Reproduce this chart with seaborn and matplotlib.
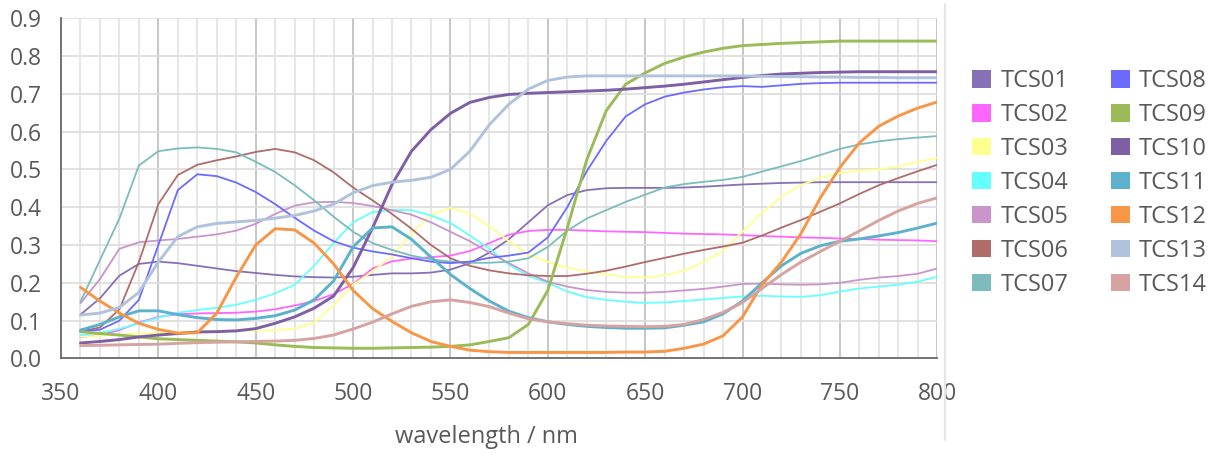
import matplotlib
matplotlib.use("Agg")
import matplotlib.pyplot as plt
import seaborn as sns
import pandas as pd
from matplotlib.patches import Patch
from matplotlib.lines import Line2D
from matplotlib.ticker import MultipleLocator, FormatStrFormatter

sns.set_theme(style="white")
plt.rcParams["font.family"] = ["Open Sans", "DejaVu Sans"]

# Spectral reflectance of the CIE test colour samples, 360-800 nm in 10 nm steps
wavelength = list(range(360, 801, 10))

tcs01 = [0.116, 0.159, 0.219, 0.250, 0.256, 0.252, 0.245, 0.238, 0.231, 0.226,
         0.221, 0.217, 0.215, 0.214, 0.216, 0.221, 0.225, 0.225, 0.227, 0.235,
         0.252, 0.280, 0.315, 0.360, 0.405, 0.432, 0.445, 0.450, 0.451, 0.451,
         0.451, 0.452, 0.454, 0.457, 0.460, 0.462, 0.464, 0.465, 0.466, 0.466,
         0.466, 0.466, 0.466, 0.466, 0.466]
tcs02 = [0.057, 0.062, 0.075, 0.095, 0.110, 0.117, 0.119, 0.120, 0.121, 0.124,
         0.130, 0.140, 0.152, 0.170, 0.197, 0.238, 0.257, 0.264, 0.268, 0.272,
         0.284, 0.305, 0.327, 0.337, 0.340, 0.340, 0.338, 0.336, 0.335, 0.334,
         0.332, 0.330, 0.329, 0.328, 0.326, 0.324, 0.322, 0.320, 0.319, 0.317,
         0.316, 0.314, 0.313, 0.312, 0.310]
tcs03 = [0.058, 0.060, 0.063, 0.066, 0.068, 0.070, 0.072, 0.073, 0.074, 0.074,
         0.075, 0.078, 0.095, 0.140, 0.195, 0.230, 0.270, 0.330, 0.380, 0.398,
         0.383, 0.350, 0.310, 0.275, 0.255, 0.240, 0.230, 0.222, 0.216, 0.214,
         0.220, 0.232, 0.255, 0.285, 0.335, 0.385, 0.428, 0.458, 0.478, 0.490,
         0.497, 0.500, 0.508, 0.520, 0.530]
tcs04 = [0.062, 0.068, 0.078, 0.093, 0.108, 0.121, 0.128, 0.134, 0.142, 0.155,
         0.172, 0.195, 0.245, 0.305, 0.360, 0.387, 0.393, 0.392, 0.378, 0.358,
         0.325, 0.290, 0.248, 0.218, 0.200, 0.177, 0.162, 0.155, 0.150, 0.147,
         0.148, 0.152, 0.156, 0.160, 0.164, 0.166, 0.164, 0.163, 0.167, 0.177,
         0.185, 0.190, 0.195, 0.203, 0.216]
tcs05 = [0.146, 0.210, 0.290, 0.307, 0.312, 0.316, 0.322, 0.328, 0.338, 0.356,
         0.382, 0.404, 0.413, 0.414, 0.411, 0.403, 0.392, 0.380, 0.360, 0.335,
         0.310, 0.280, 0.252, 0.225, 0.203, 0.190, 0.181, 0.176, 0.174, 0.174,
         0.176, 0.180, 0.184, 0.190, 0.197, 0.198, 0.196, 0.195, 0.196, 0.200,
         0.208, 0.214, 0.218, 0.224, 0.238]
tcs06 = [0.071, 0.082, 0.130, 0.255, 0.408, 0.485, 0.512, 0.524, 0.534, 0.546,
         0.554, 0.545, 0.524, 0.492, 0.452, 0.418, 0.382, 0.343, 0.300, 0.265,
         0.245, 0.233, 0.225, 0.220, 0.218, 0.218, 0.224, 0.232, 0.243, 0.255,
         0.266, 0.277, 0.287, 0.296, 0.306, 0.325, 0.346, 0.366, 0.388, 0.410,
         0.435, 0.458, 0.477, 0.495, 0.512]
tcs07 = [0.150, 0.260, 0.370, 0.510, 0.548, 0.555, 0.558, 0.554, 0.545, 0.520,
         0.493, 0.458, 0.418, 0.375, 0.335, 0.305, 0.287, 0.272, 0.262, 0.256,
         0.253, 0.253, 0.256, 0.265, 0.295, 0.338, 0.370, 0.392, 0.414, 0.433,
         0.452, 0.461, 0.467, 0.472, 0.480, 0.494, 0.508, 0.522, 0.538, 0.554,
         0.566, 0.574, 0.580, 0.584, 0.588]
tcs08 = [0.072, 0.076, 0.100, 0.155, 0.300, 0.445, 0.487, 0.482, 0.465, 0.440,
         0.408, 0.372, 0.338, 0.310, 0.293, 0.283, 0.275, 0.265, 0.256, 0.252,
         0.256, 0.266, 0.272, 0.280, 0.320, 0.400, 0.495, 0.575, 0.640, 0.672,
         0.692, 0.703, 0.711, 0.717, 0.720, 0.718, 0.722, 0.726, 0.728, 0.729,
         0.729, 0.729, 0.729, 0.729, 0.729]
tcs09 = [0.071, 0.066, 0.062, 0.057, 0.052, 0.050, 0.048, 0.046, 0.044, 0.041,
         0.036, 0.032, 0.029, 0.028, 0.027, 0.027, 0.028, 0.029, 0.030, 0.032,
         0.036, 0.045, 0.055, 0.090, 0.180, 0.345, 0.525, 0.655, 0.725, 0.755,
         0.780, 0.797, 0.810, 0.820, 0.827, 0.830, 0.833, 0.835, 0.837, 0.839,
         0.839, 0.839, 0.839, 0.839, 0.839]
tcs10 = [0.041, 0.045, 0.050, 0.057, 0.062, 0.066, 0.070, 0.071, 0.073, 0.079,
         0.093, 0.110, 0.133, 0.165, 0.240, 0.345, 0.460, 0.548, 0.605, 0.648,
         0.677, 0.690, 0.698, 0.701, 0.703, 0.705, 0.707, 0.709, 0.712, 0.716,
         0.720, 0.725, 0.731, 0.737, 0.743, 0.748, 0.752, 0.754, 0.756, 0.757,
         0.758, 0.758, 0.758, 0.758, 0.758]
tcs11 = [0.075, 0.090, 0.110, 0.126, 0.126, 0.116, 0.108, 0.103, 0.102, 0.106,
         0.113, 0.128, 0.155, 0.205, 0.295, 0.345, 0.348, 0.315, 0.268, 0.222,
         0.185, 0.152, 0.125, 0.108, 0.097, 0.090, 0.085, 0.082, 0.080, 0.080,
         0.081, 0.088, 0.097, 0.118, 0.152, 0.200, 0.245, 0.278, 0.298, 0.310,
         0.316, 0.324, 0.333, 0.345, 0.358]
tcs12 = [0.188, 0.152, 0.120, 0.093, 0.077, 0.067, 0.068, 0.120, 0.215, 0.300,
         0.343, 0.340, 0.305, 0.250, 0.180, 0.132, 0.098, 0.068, 0.045, 0.032,
         0.022, 0.018, 0.016, 0.016, 0.016, 0.016, 0.016, 0.016, 0.017, 0.017,
         0.019, 0.027, 0.038, 0.060, 0.110, 0.195, 0.255, 0.330, 0.425, 0.505,
         0.570, 0.614, 0.641, 0.662, 0.678]
tcs13 = [0.115, 0.120, 0.135, 0.175, 0.255, 0.322, 0.348, 0.357, 0.361, 0.365,
         0.371, 0.378, 0.390, 0.408, 0.438, 0.457, 0.466, 0.471, 0.479, 0.500,
         0.548, 0.618, 0.672, 0.712, 0.735, 0.744, 0.747, 0.747, 0.747, 0.747,
         0.747, 0.747, 0.747, 0.747, 0.747, 0.746, 0.745, 0.745, 0.744, 0.744,
         0.743, 0.743, 0.742, 0.742, 0.742]
tcs14 = [0.034, 0.035, 0.036, 0.037, 0.038, 0.040, 0.042, 0.043, 0.044, 0.045,
         0.046, 0.048, 0.053, 0.062, 0.078, 0.096, 0.118, 0.138, 0.150, 0.155,
         0.148, 0.137, 0.120, 0.105, 0.097, 0.092, 0.088, 0.086, 0.085, 0.084,
         0.085, 0.090, 0.103, 0.122, 0.148, 0.185, 0.222, 0.255, 0.283, 0.310,
         0.337, 0.365, 0.390, 0.410, 0.425]

samples = ["TCS01", "TCS02", "TCS03", "TCS04", "TCS05", "TCS06", "TCS07",
           "TCS08", "TCS09", "TCS10", "TCS11", "TCS12", "TCS13", "TCS14"]
reflectances = [tcs01, tcs02, tcs03, tcs04, tcs05, tcs06, tcs07,
                tcs08, tcs09, tcs10, tcs11, tcs12, tcs13, tcs14]

palette = {
    "TCS01": "#8670b6", "TCS02": "#ff66ff", "TCS03": "#ffff8f", "TCS04": "#66ffff",
    "TCS05": "#c995cb", "TCS06": "#b06b6b", "TCS07": "#7cbcbc", "TCS08": "#6b6bff",
    "TCS09": "#9bbb59", "TCS10": "#7f5fa3", "TCS11": "#5cb2cc", "TCS12": "#f79646",
    "TCS13": "#b0c2dc", "TCS14": "#d7a2a2",
}
line_widths = {name: (1.3 if i < 8 else 2.1) for i, name in enumerate(samples)}

frames = []
for name, refl in zip(samples, reflectances):
    assert len(refl) == len(wavelength)
    frames.append(pd.DataFrame({"wavelength": wavelength,
                                "reflectance": refl,
                                "sample": name}))
data = pd.concat(frames, ignore_index=True)

text_grey = "#595959"
fig = plt.figure(figsize=(12.15, 4.55), dpi=100)
ax = fig.add_axes([0.0502, 0.2121, 0.7212, 0.7483])

for name in samples:
    sns.lineplot(data=data[data["sample"] == name], x="wavelength", y="reflectance",
                 color=palette[name], linewidth=line_widths[name],
                 ax=ax, legend=False, zorder=3)

ax.set_xlim(350, 800)
ax.set_ylim(0, 0.9)
ax.xaxis.set_major_locator(MultipleLocator(50))
ax.xaxis.set_minor_locator(MultipleLocator(10))
ax.yaxis.set_major_locator(MultipleLocator(0.1))
ax.yaxis.set_major_formatter(FormatStrFormatter("%.1f"))

ax.grid(which="minor", axis="x", color="#e4e4e4", linewidth=1.3)
ax.grid(which="major", axis="x", color="#c2c2c2", linewidth=1.3)
ax.grid(which="major", axis="y", color="#dedede", linewidth=1.3)
ax.set_axisbelow(True)

for side in ("top", "right"):
    ax.spines[side].set_visible(False)
for side in ("left", "bottom"):
    ax.spines[side].set_color("#6a6a6a")
    ax.spines[side].set_linewidth(1.3)

ax.tick_params(which="major", direction="out", length=5, width=1.2,
               color="#6a6a6a", labelsize=16.5, labelcolor=text_grey)
ax.tick_params(axis="y", pad=9)
ax.tick_params(axis="x", pad=12)
ax.tick_params(which="minor", length=0)

ax.set_ylabel("")
ax.set_xlabel("wavelength / nm", fontsize=17, color=text_grey)
ax.xaxis.set_label_coords(0.485, -0.195)

handles = [Patch(facecolor=palette[name], edgecolor="none") for name in samples]
fig.legend(handles, samples, ncol=2, loc="upper left",
           bbox_to_anchor=(0.800, 0.848), frameon=False, fontsize=17,
           labelcolor=text_grey, handlelength=0.8, handleheight=0.76,
           handletextpad=0.4, columnspacing=1.8, labelspacing=0.42,
           borderpad=0, borderaxespad=0)

# thin divider between the plot panel and the legend panel
fig.add_artist(Line2D([945 / 1215, 945 / 1215], [1 - 4 / 455, 1 - 440 / 455],
                      transform=fig.transFigure, color="#e6e6e6", linewidth=1.5))

fig.savefig("out.png", dpi=100, facecolor="white")
